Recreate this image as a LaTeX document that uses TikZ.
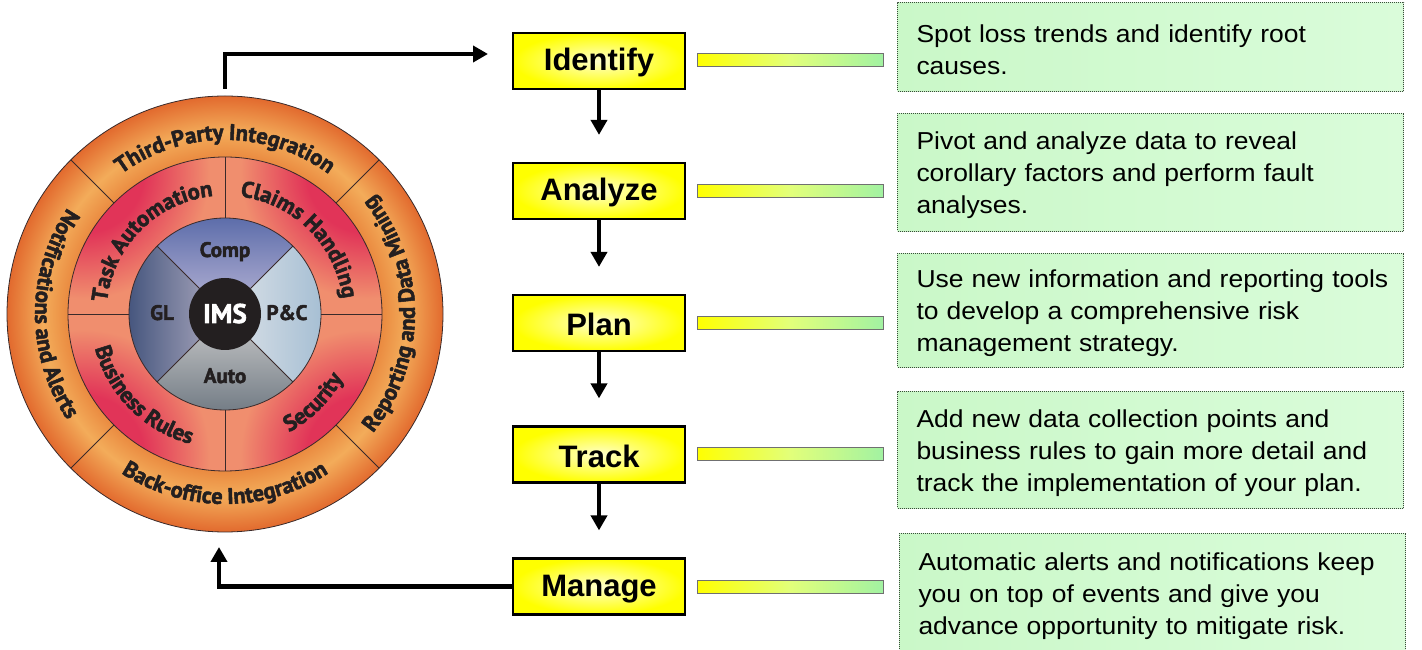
\documentclass[tikz,border=0pt]{standalone}
\usepackage{fontspec}
\setmainfont{Liberation Sans}
\newfontfamily\wheelfont{PT Sans}[BoldFeatures={FakeBold=2.2,LetterSpace=-3}]
\newfontfamily\wheelfontb{PT Sans}[BoldFeatures={FakeBold=2.2}]
\newfontfamily\descfont{Liberation Sans}[FakeStretch=1.08]
\usetikzlibrary{arrows.meta,decorations.text}

\definecolor{wtxt}{HTML}{231F20}
\definecolor{odark}{HTML}{E26A2E}
\definecolor{omid}{HTML}{EA8A40}
\definecolor{olight}{HTML}{F3AC5A}
\definecolor{rdark}{HTML}{E13458}
\definecolor{rlight}{HTML}{F08E6E}
\definecolor{compT}{HTML}{5466A6}
\definecolor{compB}{HTML}{BCB8D8}
\definecolor{glL}{HTML}{3C4E78}
\definecolor{glR}{HTML}{B2AEC2}
\definecolor{pcL}{HTML}{DCE2E8}
\definecolor{pcR}{HTML}{A2BCD2}
\definecolor{auT}{HTML}{CACACA}
\definecolor{auB}{HTML}{6C7680}
\definecolor{imsc}{HTML}{231F20}
\definecolor{wlinec}{HTML}{3A2A2A}
\definecolor{yin}{HTML}{FFFFCC}
\definecolor{bargray}{HTML}{707070}
\definecolor{bargreen}{HTML}{A2F2A2}
\definecolor{barmid}{HTML}{E2FF7A}
\definecolor{gl}{HTML}{CAF8C8}
\definecolor{gr}{HTML}{DAFCDA}
\definecolor{gborder}{HTML}{3A4A3A}

\pgfdeclareradialshading{outerring}{\pgfpoint{0bp}{0bp}}{color(0bp)=(omid); color(18bp)=(omid); color(20.9bp)=(olight); color(25bp)=(odark); color(50bp)=(odark)}
\pgfdeclareradialshading{redspot}{\pgfpoint{0bp}{0bp}}{color(0bp)=(rdark); color(10bp)=(rdark); color(21bp)=(rlight); color(25bp)=(rlight); color(50bp)=(rlight)}

\newcommand\wheelfmt{\wheelfont\bfseries\fontsize{22.5}{22.5}\selectfont\color{wtxt}}

\tikzset{
  ybox/.style={draw=black, line width=2.2pt, inner color=yin, outer color=yellow,
    minimum width=172pt, minimum height=56pt, inner sep=0pt,
    font=\bfseries\fontsize{31}{31}\selectfont},
  barnode/.style={draw=bargray, line width=1pt, left color=yellow, right color=bargreen,
    middle color=barmid, minimum width=186pt, minimum height=13pt, inner sep=0pt},
  gbox/.style={draw=gborder, line width=1pt, dash pattern=on 1pt off 1pt,
    left color=gl, right color=gr, anchor=north west, text width=468pt,
    inner xsep=19pt, inner ysep=0pt, align=left,
    font=\descfont\fontsize{24.5}{32}\selectfont},
  conn/.style={line width=4.5pt, -{Triangle[length=15pt,width=16pt]}},
  wline/.style={draw=wlinec, line width=0.8pt},
  wlab/.style={font=\wheelfontb\bfseries\fontsize{21}{21}\selectfont, text=wtxt, anchor=base},
  arctext/.style={decorate, decoration={text along path, text align=center, text={#1}}}
}
\newcommand\fl[1]{\rule{0pt}{24pt}\mbox{#1}}
\newcommand\yl[1]{\rule{0pt}{26pt}#1}

\begin{document}
\begin{tikzpicture}[x=1pt,y=1pt]
\useasboundingbox (0,0) rectangle (1422,650);
\coordinate (c) at (225,336);

% ---- wheel: outer ring
\shade[shading=outerring] (c) circle[radius=218];
% ---- middle ring
\fill[rlight] (c) circle[radius=157];
\foreach \a/\s/\e in {45/0/90,135/90/180,225/180/270,315/270/360}{
  \begin{scope}
    \clip (c) -- ++(\s:157) arc[start angle=\s, end angle=\e, radius=157] -- cycle;
    \shade[shading=redspot] ([shift={(\a:200)}]c) circle[radius=150];
  \end{scope}
}
% ---- inner quadrants
\shade[top color=compT, bottom color=compB] (c) -- ++(45:96) arc[start angle=45, end angle=135, radius=96] -- cycle;
\shade[left color=glL, right color=glR] (c) -- ++(135:96) arc[start angle=135, end angle=225, radius=96] -- cycle;
\shade[left color=pcL, right color=pcR] (c) -- ++(-45:96) arc[start angle=-45, end angle=45, radius=96] -- cycle;
\shade[top color=auT, bottom color=auB] (c) -- ++(225:96) arc[start angle=225, end angle=315, radius=96] -- cycle;

% ---- divider lines and circles
\foreach \a in {45,135,225,315}{
  \draw[wline] ([shift={(\a:36)}]c) -- ([shift={(\a:96)}]c);
  \draw[wline] ([shift={(\a:157)}]c) -- ([shift={(\a:218)}]c);
}
\foreach \a in {0,90,180,270}{
  \draw[wline] ([shift={(\a:96)}]c) -- ([shift={(\a:157)}]c);
}
\draw[wline] (c) circle[radius=218];
\draw[wline] (c) circle[radius=157];
\draw[wline] (c) circle[radius=96];
\fill[imsc] (c) circle[radius=36];

% ---- inner labels
\node[wlab] (comp) at (225,393) {Comp};
\node[wlab] (gl) at (162,330) {GL};
\node[wlab] (pc) at (287,330) {P\&C};
\node[wlab] (auto) at (225,267) {Auto};
\node[wlab, text=white, font=\wheelfontb\bfseries\fontsize{27}{27}\selectfont] (ims) at (225,327) {IMS};

% ---- curved labels, outer ring
\path[arctext={|\wheelfmt|Third-Party Integration}] ([shift={(160:174.1)}]c) arc[start angle=160, end angle=20, radius=174.1];
\path[arctext={|\wheelfmt|Reporting and Data Mining}] ([shift={(-70:189.9)}]c) arc[start angle=-70, end angle=70, radius=189.9];
\path[arctext={|\wheelfmt|Back-office Integration}] ([shift={(200:189.9)}]c) arc[start angle=200, end angle=340, radius=189.9];
\path[arctext={|\wheelfmt|Notifications and Alerts}] ([shift={(110:189.9)}]c) arc[start angle=110, end angle=250, radius=189.9];
% ---- curved labels, middle ring
\path[arctext={|\wheelfmt|Task Automation}] ([shift={(205:118.6)}]c) arc[start angle=205, end angle=65, radius=118.6];
\path[arctext={|\wheelfmt|Claims Handling}] ([shift={(115:118.6)}]c) arc[start angle=115, end angle=-25, radius=118.6];
\path[arctext={|\wheelfmt|Business Rules}] ([shift={(155:134.4)}]c) arc[start angle=155, end angle=295, radius=134.4];
\path[arctext={|\wheelfmt|Security}] ([shift={(245:134.4)}]c) arc[start angle=245, end angle=385, radius=134.4];

% ---- step boxes
\node[ybox] (identify) at (599,589) {\yl{Identify}};
\node[ybox] (analyze) at (599,459) {\yl{Analyze}};
\node[ybox] (plan) at (599,327) {\yl{Plan}};
\node[ybox] (track) at (599,195.5) {\yl{Track}};
\node[ybox] (manage) at (599,63.5) {\yl{Manage}};

\foreach \f/\t in {identify/analyze,analyze/plan,plan/track,track/manage}{
  \draw[conn, shorten >=27pt] (\f.south) -- (\t.north);
}

% ---- bars
\node[barnode] (bar1) at (790,589.5) {};
\node[barnode] (bar2) at (790,459) {};
\node[barnode] (bar3) at (790,327) {};
\node[barnode] (bar4) at (790,195.5) {};
\node[barnode] (bar5) at (790,63) {};

% ---- description boxes
\node[gbox, minimum height=89pt] (t1) at (897,648) {\fl{Spot loss trends and identify root}\\\mbox{causes.}};
\node[gbox, minimum height=118pt] (t2) at (897,537) {\fl{Pivot and analyze data to reveal}\\\mbox{corollary factors and perform fault}\\\mbox{analyses.}};
\node[gbox, minimum height=114pt] (t3) at (897,397) {\fl{Use new information and reporting tools}\\\mbox{to develop a comprehensive risk}\\\mbox{management strategy.}};
\node[gbox, minimum height=117pt] (t4) at (897,259) {\fl{Add new data collection points and}\\\mbox{business rules to gain more detail and}\\\mbox{track the implementation of your plan.}};
\node[gbox, minimum height=120pt] (t5) at (899,117) {\fl{Automatic alerts and notifications keep}\\\mbox{you on top of events and give you}\\\mbox{advance opportunity to mitigate risk.}};

% ---- loop connectors
\coordinate (wtop) at (225,561);
\coordinate (idin) at (488,596);
\coordinate (wbot) at (219,103);
\draw[conn] (wtop) |- (idin);
\draw[conn] (manage.west) -| (wbot);
\end{tikzpicture}
\end{document}
